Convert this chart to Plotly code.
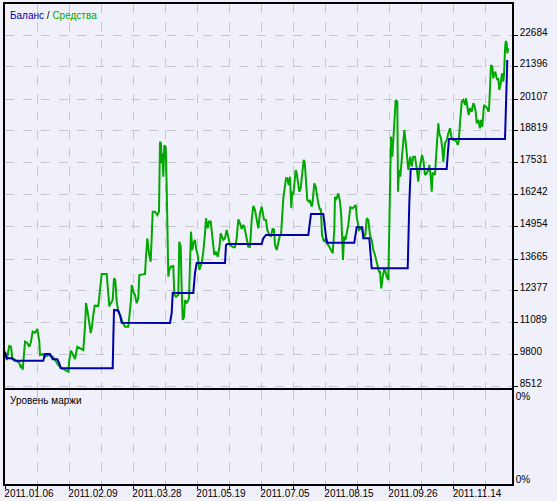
import plotly.graph_objects as go

# equity (green) - x is the test step, y is money
eq_x = [0, 1.7, 4.3, 6, 7.3, 10, 12.3, 14.3, 16, 17.3, 17.7, 19, 20, 22.3, 24.3, 25.7, 27.7, 30, 32.3, 34.3, 35,
        37.7, 40, 43.3, 47.7, 50, 53.3, 56.7, 60, 63.3, 64.3, 66, 67.7, 70, 72.3, 75, 78.3, 80, 81, 82.3, 83.7, 84.3,
        85.7, 87, 88.3, 89.7, 93.3, 95, 96.7, 101.7, 103.3, 104.3, 106, 107.7, 109, 110.3, 111.7, 113.3, 115.7, 117.3,
        120, 123.3, 125, 126, 126.7, 127.3, 128.3, 130, 131.7, 133.3, 134.3, 140, 141, 142.3, 144, 145.7, 146.7, 147.7,
        150, 152.3, 154, 154.3, 155, 156, 156.7, 157.3, 158.3, 159.3, 160.7, 161.7, 162.7, 163.3, 164.3, 165.7, 168.3,
        169.3, 171, 173.3, 174.3, 175.7, 176.7, 177.7, 179, 180, 181.7, 184, 185, 186, 187.3, 188.3, 190, 191, 192.7,
        194.3, 196.7, 198.3, 200, 201, 202.7, 204, 205.7, 206.7, 208.3, 209.3, 211, 212.7, 214.3, 215.7, 218.3, 220,
        221.7, 223.3, 225, 228.3, 230, 231.7, 233.3, 235, 236.7, 238.3, 239.3, 243.3, 245, 246.7, 248.3, 250, 251.7,
        253.3, 255, 256.7, 259, 261, 262.3, 264.3, 266, 267.7, 269, 270, 271.7, 273.3, 275, 276, 277.3, 278.3, 281,
        282.3, 283.7, 285, 286.3, 287.3, 288.3, 289.3, 290.7, 291.7, 293.3, 294.3, 295.7, 296.7, 297.7, 298.7, 299.7,
        301, 302.3, 304, 305, 306.7, 307.7, 309.3, 310.7, 313.3, 315, 315.7, 316, 317, 319, 321.3, 323, 324.3, 325,
        326.3, 327.7, 329.3, 330, 330.7, 331.7, 333.3, 335, 336.3, 337.3, 338, 339, 340.3, 341.7, 343.3, 345.3, 347.7,
        349.3, 350.7, 351.7, 353.3, 354, 356.7, 359, 360.3, 361.7, 363.3, 365, 366.7, 368.3, 370, 372.3, 374, 375,
        376.3, 377.7, 379.3, 380.3, 381.7, 383.3, 384.3, 385.3, 386, 387.3, 388.3, 389.3, 390.7, 392.3, 393, 394,
        395.3, 397, 398.3, 399.3, 401, 403.3, 405.3, 406.7, 408.3, 410, 411.7, 413.3, 414.3, 415.7, 417, 418.3, 420,
        421.7, 423.3, 424.3, 425.7, 426.7, 427.7, 429, 430, 431, 432.3, 433.3, 434.3, 436, 437.3, 438.3, 440, 441.7,
        443.3, 445, 446.7, 448.3, 450, 451.7, 452.7, 453.7, 455, 456.7, 458.3, 460, 461, 462.3, 463.7, 465, 466.7,
        468.3, 469.3, 470.7, 471.7, 473.3, 475, 476, 477.3, 479, 481, 482.3, 483.3, 484, 485, 486, 487.3, 488.3, 489.3,
        490.3, 491.3, 492.3, 493.3, 494.3, 495.7, 497, 498.3, 499, 500, 500.7, 501.7, 502.3, 503.3]
eq_y = [9933, 9599, 10162, 10134, 9679, 9599, 9530, 9478, 9277, 9397, 9196, 9933, 10335, 10283, 10134, 10283, 10739,
        10686, 10847, 10335, 9800, 9840, 9732, 9800, 9732, 9599, 9397, 9264, 9196, 9129, 9599, 9973, 9840, 9639, 10134,
        10082, 10001, 10940, 11894, 11612, 11343, 11089, 10686, 10940, 11411, 11786, 11773, 12349, 13061, 13061, 12417,
        11760, 11897, 12015, 12888, 12820, 11947, 11545, 11343, 11141, 10940, 10940, 11612, 12015, 12619, 12552, 12349,
        12216, 11881, 12082, 13021, 13061, 13758, 14498, 13895, 13556, 14563, 15570, 15570, 15437, 15570, 16914, 18389,
        18325, 17519, 17921, 16979, 18244, 18175, 16512, 13492, 12953, 13222, 13355, 13383, 12216, 12148, 12216, 14362,
        14161, 12417, 11210, 11343, 12015, 11881, 12082, 13492, 14765, 14028, 14298, 14431, 14097, 13826, 13222, 13492,
        13959, 14700, 15304, 14902, 15170, 15170, 14833, 14230, 13826, 13959, 13758, 14097, 14700, 14431, 14499, 14833,
        14565, 14230, 14137, 14137, 14499, 15264, 15103, 14874, 15035, 14967, 14161, 14161, 15236, 15800, 15639, 15304,
        14902, 15505, 15772, 15250, 15236, 14833, 14632, 14565, 14902, 14833, 14230, 14028, 14298, 14632, 14632, 15437,
        16108, 16914, 16914, 16645, 16979, 15707, 16376, 16242, 16778, 17249, 17116, 16645, 16376, 16511, 16914, 17116,
        17652, 17583, 16778, 16041, 15973, 16041, 15772, 15973, 16713, 16578, 15907, 15639, 15706, 15570, 14632, 14362,
        14499, 14230, 14161, 14097, 14028, 13895, 14833, 16175, 16041, 16108, 16309, 15973, 15370, 14499, 13625, 14565,
        14431, 14700, 15035, 15747, 15706, 15772, 15840, 15370, 15035, 14833, 14902, 14565, 14632, 15304, 15236, 14632,
        14431, 14028, 13826, 13356, 13155, 13155, 12485, 12953, 13290, 13180, 12953, 12820, 14700, 16645, 18590, 17785,
        18457, 19262, 20067, 19999, 16376, 17249, 16979, 17785, 18324, 18860, 18256, 17249, 17785, 17382, 17785, 17785,
        17317, 16778, 17249, 17518, 17852, 17651, 17048, 17116, 17249, 17450, 16979, 16376, 17116, 17116, 17048, 17719,
        18457, 19129, 18727, 18525, 18123, 17584, 18324, 18457, 18727, 18928, 18525, 18457, 18457, 18388, 18256, 18388,
        19129, 19999, 20067, 19866, 20136, 19797, 19463, 19733, 19596, 19934, 19866, 19596, 19129, 19262, 18928, 19262,
        18992, 19866, 19797, 19733, 19596, 19664, 20538, 21476, 21408, 20941, 21142, 21206, 21005, 20872, 20941, 20470,
        20739, 21142, 20804, 21074, 22080, 22442, 22350, 21947, 22149, 21545]

# balance (blue)
bal_x = [0, 1.7, 6.7, 8.3, 10, 38.3, 40, 45, 46.7, 47.7, 52.3, 54.3, 55.7, 107.7, 108.3, 109, 110, 113.3, 115, 116.7,
         165, 166.7, 167.7, 188.3, 190, 191.7, 220, 221, 222.3, 256.7, 258.3, 261, 303.3, 305, 306, 318.3, 320, 321,
         321.7, 349.3, 350.7, 351.7, 357.3, 358.3, 364.3, 365, 366.7, 402.7, 403.3, 404.3, 405.7, 441.7, 442.7, 444,
         500, 500.7, 501, 502.3]
bal_y = [9933, 9666, 9666, 9599, 9571, 9571, 9840, 9840, 9732, 9627, 9627, 9465, 9264, 9264, 10403, 11612, 11612,
         11584, 11411, 11101, 11089, 11492, 12296, 12296, 13102, 13504, 13504, 14230, 14270, 14270, 14499, 14632,
         14632, 15103, 15477, 15477, 14967, 14632, 14322, 14322, 14632, 14942, 14942, 14499, 14499, 14097, 13291,
         13291, 14565, 15908, 17289, 17289, 17853, 18497, 18497, 19532, 20603, 21678]

y_ticks = [8512, 9800, 11089, 12377, 13665, 14954, 16242, 17531, 18819, 20107, 21396, 22684]
x_ticks = [0, 32, 64, 96, 128, 160, 192, 224, 256, 288, 320, 352, 384, 416, 448, 480]
x_labels = ["2011.01.06", "", "2011.02.09", "", "2011.03.28", "", "2011.05.19", "", "2011.07.05", "",
            "2011.08.15", "", "2011.09.26", "", "2011.11.14", ""]

bg = "#F0F0FA"
grid = "#C6C6D0"
fnt = dict(family="Liberation Sans, Arial", size=10, color="black")

fig = go.Figure()
fig.add_trace(go.Scatter(x=eq_x, y=eq_y, mode="lines", line=dict(color="#00A800", width=2), xaxis="x", yaxis="y"))
fig.add_trace(go.Scatter(x=bal_x, y=bal_y, mode="lines", line=dict(color="#0000A8", width=2), xaxis="x", yaxis="y"))
# empty pane for margin level
fig.add_trace(go.Scatter(x=[0], y=[0], mode="lines", line=dict(width=0), xaxis="x2", yaxis="y2", hoverinfo="skip"))

axis_common = dict(showline=True, mirror=True, linecolor="black", linewidth=1.5, zeroline=False,
                   gridcolor=grid, griddash="dash", gridwidth=1, tickfont=fnt)

fig.update_layout(
    width=557, height=501,
    margin=dict(l=5, r=45, t=4, b=17, autoexpand=False),
    paper_bgcolor=bg, plot_bgcolor=bg,
    showlegend=False,
    xaxis=dict(axis_common, domain=[0, 1], range=[0, 507], anchor="y", tickvals=x_ticks,
               showticklabels=False, ticks=""),
    yaxis=dict(axis_common, domain=[0.2, 1], range=[8471, 23932], side="right", tickvals=y_ticks,
               ticktext=[str(v) for v in y_ticks],
               ticks="outside", ticklen=4, tickcolor="black", ticklabelshift=-3),
    xaxis2=dict(axis_common, domain=[0, 1], range=[0, 507], anchor="y2", tickvals=x_ticks, ticktext=x_labels,
                ticks="outside", ticklen=3, tickcolor="black", ticklabelshift=24, ticklabelstandoff=-4),
    yaxis2=dict(axis_common, domain=[0, 0.196], range=[0, 1], side="right", showgrid=False,
                tickvals=[0.045, 0.93], ticktext=["0%", "0%"], ticks=""),
)

fig.add_annotation(xref="paper", yref="paper", x=0.006, y=1, xanchor="left", yanchor="top", yshift=-4,
                   showarrow=False, font=fnt,
                   text="<span style='color:#0000A8'>Баланс</span> / <span style='color:#00A800'>Средства</span>")
fig.add_annotation(xref="paper", yref="paper", x=0.006, y=0.196, xanchor="left", yanchor="top", yshift=-3,
                   showarrow=False, font=fnt, text="Уровень маржи")

fig.write_html("out.html", config={"displayModeBar": False},
               post_script="document.body.style.margin='0';document.body.style.background='%s';" % bg)
